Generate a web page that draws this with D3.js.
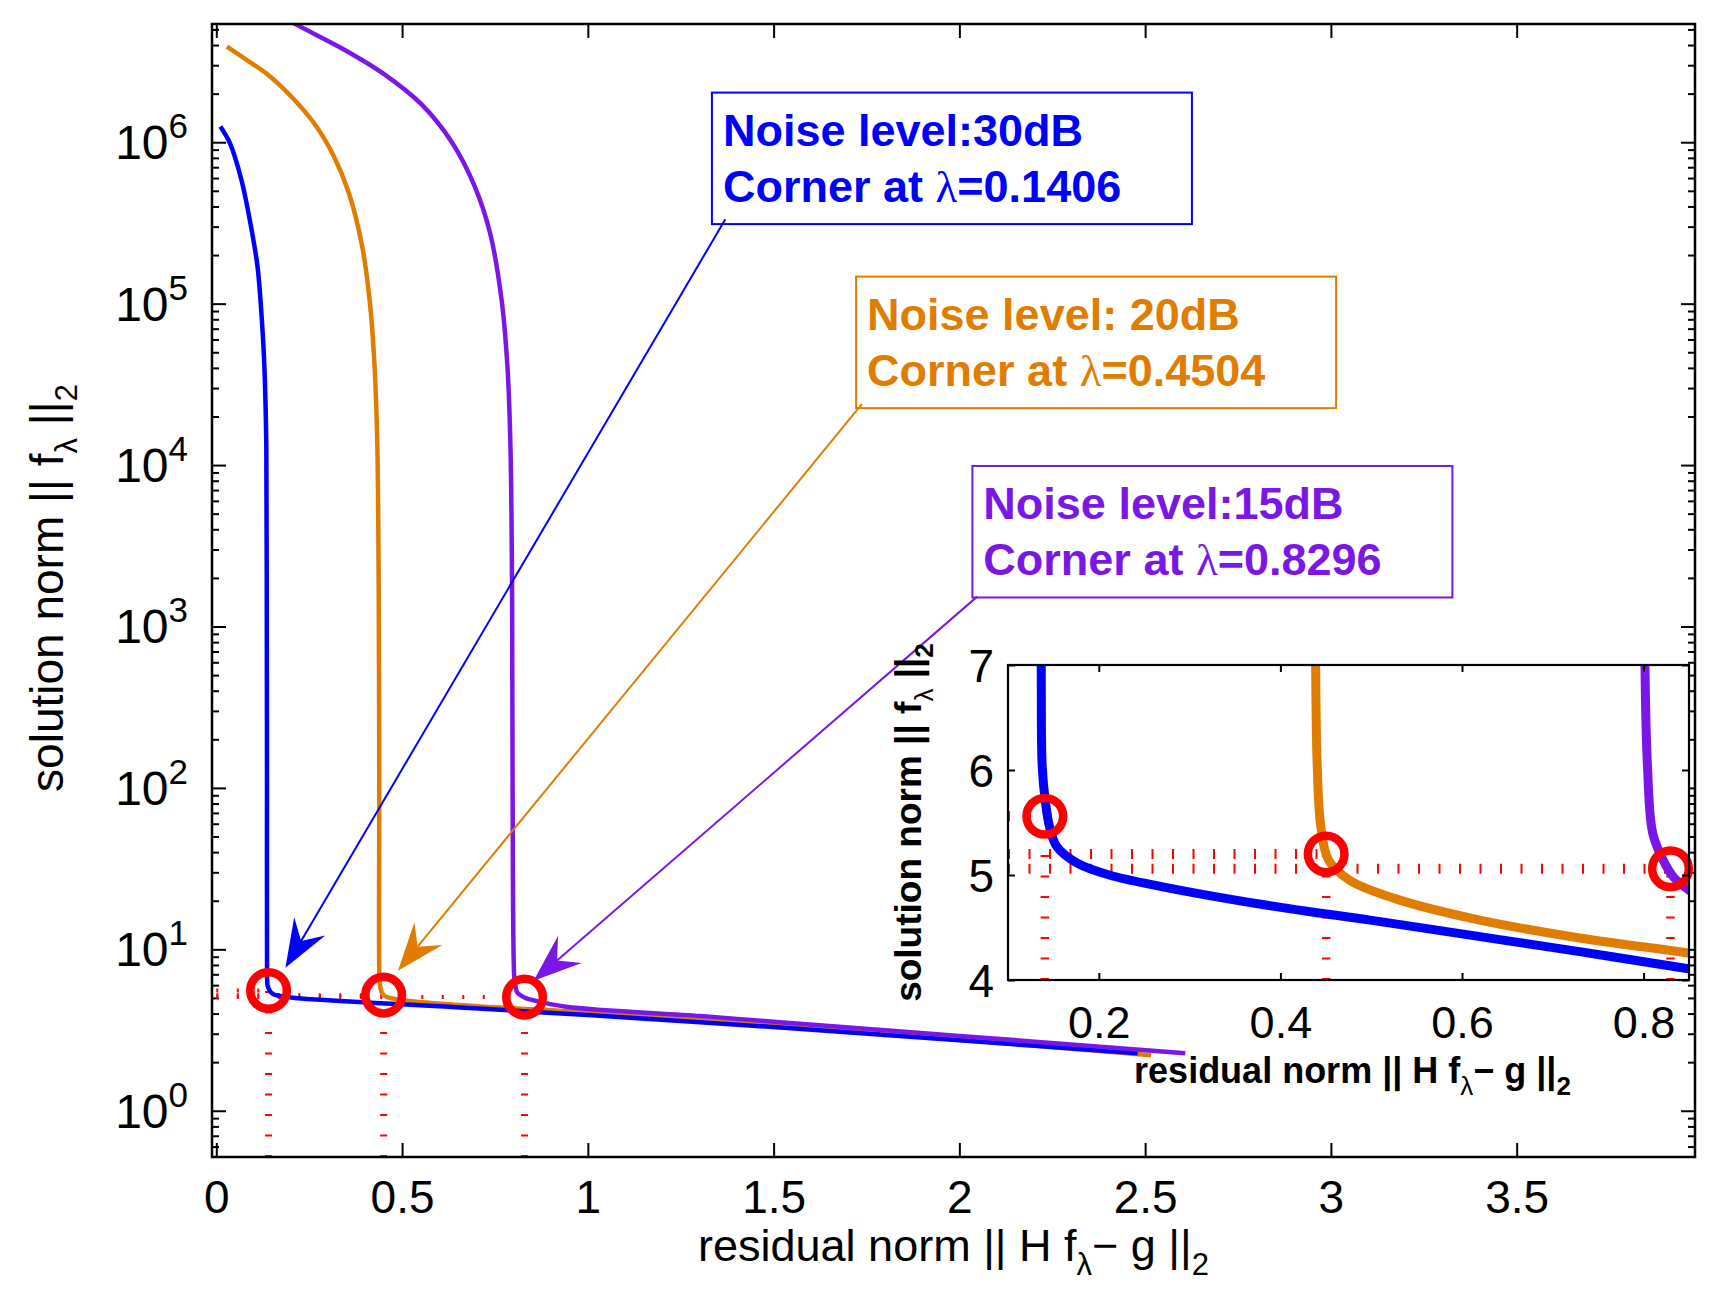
<!DOCTYPE html>
<html>
<head>
<meta charset="utf-8">
<script src="https://cdn.jsdelivr.net/npm/d3@7"></script>
<style>
  body { margin: 0; background: #fff; }
  svg { display: block; }
</style>
</head>
<body>
<div id="chart"></div>
<script>
const width = 1720;
const height = 1315;

// colours of the three noise levels (30dB, 20dB, 15dB)
const seriesColors = ["#0000ff", "#e07d00", "#7a17e6"];

// L-curves: residual norm (x) and solution norm (y)
const blueX = [0.011, 0.0366, 0.0676, 0.0934, 0.111, 0.122, 0.1294, 0.1346, 0.1358, 0.1364,
  0.1366, 0.1377, 0.141, 0.146, 0.1538, 0.1768, 0.2114, 0.269, 0.384, 0.499,
  0.6144, 0.7295, 0.8475, 1.0, 1.5, 2.0, 2.48];
const blueY = [1.25e6, 9.86e5, 5.83e5, 3.0e5, 1.69e5, 8.3e4, 4.07e4, 1.3e4, 1500, 100,
  7, 6.03, 5.71, 5.45, 5.27, 5.11, 5.0, 4.89, 4.714, 4.57,
  4.42, 4.27, 4.11, 3.92, 3.30, 2.73, 2.27];

const orangeX = [0.0285, 0.0882, 0.1397, 0.2016, 0.2633, 0.315, 0.356, 0.392, 0.4127, 0.426,
  0.4334, 0.4372, 0.4385, 0.4388, 0.4406, 0.4445, 0.4532, 0.4762, 0.528, 0.6144,
  0.7295, 0.8475, 1.0, 1.5, 2.0, 2.516];
const orangeY = [3.91e6, 3.16e6, 2.61e6, 1.92e6, 1.31e6, 8.3e5, 4.9e5, 2.3e5, 1.05e5, 4.07e4,
  1.3e4, 1500, 100, 7, 6.03, 5.46, 5.14, 4.95, 4.77, 4.58,
  4.40, 4.26, 4.06, 3.39, 2.75, 2.21];

const purpleX = [0.15, 0.222, 0.3457, 0.4487, 0.5518, 0.634, 0.6958, 0.737, 0.768, 0.7836,
  0.7917, 0.7962, 0.7975, 0.8015, 0.8043, 0.81, 0.8216, 0.833, 0.851, 0.9415,
  1.303, 1.5, 2.0, 2.608];
const purpleY = [6.5e6, 5.26e6, 3.73e6, 2.67e6, 1.72e6, 1.0e6, 5.31e5, 2.73e5, 1.05e5, 4.07e4,
  1.3e4, 1500, 100, 7, 6.03, 5.40, 5.14, 4.98, 4.85, 4.41,
  3.86, 3.56, 2.91, 2.27];

// corners of the L-curves
const cornerX = [0.1406, 0.4504, 0.8296];
const cornerY = [5.56, 5.2, 5.06];

// ticks
const xTicks = [0, 0.5, 1, 1.5, 2, 2.5, 3, 3.5];
const yExponents = [0, 1, 2, 3, 4, 5, 6];
const insetXTicks = [0.2, 0.4, 0.6, 0.8];
const insetYTicks = [4, 5, 6, 7];

// annotation texts
const noiseLabels = ["Noise level:30dB", "Noise level: 20dB", "Noise level:15dB"];
const lambdaLabels = ["0.1406", "0.4504", "0.8296"];
// annotation anchors in data units: box top-left, arrow tail, arrow tip
const boxX = [1.334, 1.722, 2.035];
const boxY = [2.03e6, 1.47e5, 9.87e3];
const tailX = [1.370, 1.738, 2.048];
const tailY = [3.33e5, 2.39e4, 1531];
const tipX = [0.186, 0.489, 0.854];
const tipY = [7.69, 7.37, 6.39];

const font = "'Liberation Sans', Arial, Helvetica, sans-serif";

const svg = d3.select("#chart").append("svg")
  .attr("width", width)
  .attr("height", height)
  .style("font-family", font)
  .style("background", "#fff");

const main = { left: 212, top: 24, right: 1695, bottom: 1157 };
const inset = { left: 1008, top: 665, right: 1689, bottom: 980 };

const x = d3.scaleLinear().domain([-0.0116, 3.98]).range([main.left, main.right]);
const y = d3.scaleLog().domain([0.517, 5.4e6]).range([main.bottom, main.top]);
const xi = d3.scaleLinear().domain([0.1, 0.85]).range([inset.left, inset.right]);
const yi = d3.scaleLinear().domain([4, 7]).range([inset.bottom, inset.top]);

const series = [
  { xs: orangeX, ys: orangeY, color: seriesColors[1] },
  { xs: blueX, ys: blueY, color: seriesColors[0] },
  { xs: purpleX, ys: purpleY, color: seriesColors[2] }
];

// clip paths
const defs = svg.append("defs");
defs.append("clipPath").attr("id", "clipMain").append("rect")
  .attr("x", main.left).attr("y", main.top)
  .attr("width", main.right - main.left).attr("height", main.bottom - main.top);
defs.append("clipPath").attr("id", "clipInset").append("rect")
  .attr("x", inset.left).attr("y", inset.top)
  .attr("width", inset.right - inset.left).attr("height", inset.bottom - inset.top);

function styleAxis(g, w) {
  g.select(".domain").remove();
  g.selectAll(".tick line").attr("stroke", "#000").attr("stroke-width", w);
}

// ---------- main axes ----------
const minorY = [];
for (let k = -1; k <= 6; k++) {
  for (let m = 2; m <= 9; m++) {
    const v = m * Math.pow(10, k);
    if (v > y.domain()[0] && v < y.domain()[1]) minorY.push(v);
  }
}
const majorY = yExponents.map(e => Math.pow(10, e));

svg.append("g").attr("transform", `translate(0,${main.bottom})`)
  .call(d3.axisBottom(x).tickValues(xTicks).tickSize(-14).tickFormat(d3.format("")))
  .call(g => styleAxis(g, 2))
  .call(g => g.selectAll("text").attr("y", 56).attr("dy", null)
    .attr("font-size", 46).attr("font-family", font).attr("fill", "#000"));
svg.append("g").attr("transform", `translate(0,${main.top})`)
  .call(d3.axisTop(x).tickValues(xTicks).tickSize(-14).tickFormat(""))
  .call(g => styleAxis(g, 2));

[["left", main.left], ["right", main.right]].forEach(([side, px]) => {
  const ax = side === "left" ? d3.axisLeft : d3.axisRight;
  svg.append("g").attr("transform", `translate(${px},0)`)
    .call(ax(y).tickValues(majorY).tickSize(-14).tickFormat(""))
    .call(g => styleAxis(g, 2));
  svg.append("g").attr("transform", `translate(${px},0)`)
    .call(ax(y).tickValues(minorY).tickSize(-7).tickFormat(""))
    .call(g => styleAxis(g, 2));
});

// y tick labels 10^n
svg.append("g").selectAll("text")
  .data(yExponents)
  .join("text")
  .attr("x", main.left - 24)
  .attr("y", d => y(Math.pow(10, d)) + 17)
  .attr("text-anchor", "end")
  .attr("font-size", 48)
  .attr("fill", "#000")
  .each(function (d) {
    const t = d3.select(this);
    t.append("tspan").text("10");
    t.append("tspan").attr("dy", -21).attr("font-size", 35).text(d);
  });

// red reference lines (main)
const refMain = svg.append("g").attr("clip-path", "url(#clipMain)")
  .attr("stroke", "#ff0000").attr("fill", "none");
refMain.selectAll("line.v")
  .data(cornerX)
  .join("line")
  .attr("class", "v")
  .attr("x1", d => x(d)).attr("x2", d => x(d))
  .attr("y1", main.bottom).attr("y2", (d, i) => y(cornerY[i]))
  .attr("stroke-width", 7).attr("stroke-dasharray", "2 18.5");
refMain.selectAll("line.h")
  .data(cornerX)
  .join("line")
  .attr("class", "h")
  .attr("x1", x(0)).attr("x2", d => x(d))
  .attr("y1", (d, i) => y(cornerY[i])).attr("y2", (d, i) => y(cornerY[i]))
  .attr("stroke-width", 4).attr("stroke-dasharray", "2 18.5");

// curves (main)
const lineMain = d3.line()
  .x(d => x(d[0]))
  .y(d => y(d[1]))
  .curve(d3.curveCatmullRom.alpha(0.5));
svg.append("g").attr("clip-path", "url(#clipMain)")
  .selectAll("path")
  .data(series)
  .join("path")
  .attr("fill", "none")
  .attr("stroke", d => d.color)
  .attr("stroke-width", 4.5)
  .attr("stroke-linejoin", "round")
  .attr("d", d => lineMain(d.xs.map((v, i) => [v, d.ys[i]])));

// corner circles (main)
svg.append("g").selectAll("circle")
  .data(cornerX)
  .join("circle")
  .attr("cx", d => x(d))
  .attr("cy", (d, i) => y(cornerY[i]))
  .attr("r", 18.3)
  .attr("fill", "none")
  .attr("stroke", "#ff0000")
  .attr("stroke-width", 8.5);

// main frame
svg.append("rect")
  .attr("x", main.left).attr("y", main.top)
  .attr("width", main.right - main.left).attr("height", main.bottom - main.top)
  .attr("fill", "none").attr("stroke", "#000").attr("stroke-width", 2.5);

// axis labels (main)
svg.append("text")
  .attr("x", (main.left + main.right) / 2)
  .attr("y", 1261)
  .attr("text-anchor", "middle")
  .attr("font-size", 45)
  .call(t => {
    t.append("tspan").text("residual norm || H f");
    t.append("tspan").attr("dy", 14).attr("font-size", 31).text("λ");
    t.append("tspan").attr("dy", -14).text("− g ||");
    t.append("tspan").attr("dy", 14).attr("font-size", 31).text("2");
  });
svg.append("text")
  .attr("transform", "translate(63,588) rotate(-90)")
  .attr("text-anchor", "middle")
  .attr("font-size", 46)
  .call(t => {
    t.append("tspan").text("solution norm || f");
    t.append("tspan").attr("dy", 14).attr("font-size", 31).text("λ");
    t.append("tspan").attr("dy", -14).text(" ||");
    t.append("tspan").attr("dy", 14).attr("font-size", 31).text("2");
  });

// ---------- annotations ----------
const ann = svg.append("g");
seriesColors.forEach((c, i) => {
  const bx = x(boxX[i]), by = y(boxY[i]);
  const g = ann.append("g");
  g.append("rect")
    .attr("x", bx).attr("y", by)
    .attr("width", 480).attr("height", 131.5)
    .attr("fill", "none").attr("stroke", c).attr("stroke-width", 2);
  g.append("text")
    .attr("x", bx + 11).attr("y", by + 53)
    .attr("font-size", 45).attr("font-weight", "bold").attr("fill", c)
    .text(noiseLabels[i]);
  g.append("text")
    .attr("x", bx + 11).attr("y", by + 109)
    .attr("font-size", 45).attr("font-weight", "bold").attr("fill", c)
    .call(t => {
      t.append("tspan").text("Corner at ");
      t.append("tspan").attr("font-family", "'Liberation Serif', 'Times New Roman', serif")
        .attr("font-weight", "normal").text("λ");
      t.append("tspan").text("=" + lambdaLabels[i]);
    });

  // arrow
  const sx = x(tailX[i]), sy = y(tailY[i]);
  const tx = x(tipX[i]), ty = y(tipY[i]);
  const len = Math.hypot(tx - sx, ty - sy);
  const ux = (tx - sx) / len, uy = (ty - sy) / len;
  const nx = -uy, ny = ux;
  const L = 48, W = 18, N = 31;
  g.append("line")
    .attr("x1", sx).attr("y1", sy)
    .attr("x2", tx - N * ux).attr("y2", ty - N * uy)
    .attr("stroke", c).attr("stroke-width", 2);
  g.append("path")
    .attr("d", d3.line()([
      [tx, ty],
      [tx - L * ux + W * nx, ty - L * uy + W * ny],
      [tx - N * ux, ty - N * uy],
      [tx - L * ux - W * nx, ty - L * uy - W * ny]
    ]) + "Z")
    .attr("fill", c);
});

// ---------- inset ----------
svg.append("rect")
  .attr("x", inset.left).attr("y", inset.top)
  .attr("width", inset.right - inset.left).attr("height", inset.bottom - inset.top)
  .attr("fill", "#fff");

const refInset = svg.append("g").attr("clip-path", "url(#clipInset)")
  .attr("stroke", "#ff0000").attr("fill", "none");
refInset.selectAll("line.v")
  .data(cornerX)
  .join("line")
  .attr("class", "v")
  .attr("x1", d => xi(d)).attr("x2", d => xi(d))
  .attr("y1", inset.bottom).attr("y2", (d, i) => yi(cornerY[i]))
  .attr("stroke-width", 8.5).attr("stroke-dasharray", "2 18.5");
refInset.selectAll("line.h")
  .data(cornerX)
  .join("line")
  .attr("class", "h")
  .attr("x1", inset.left).attr("x2", d => xi(d))
  .attr("y1", (d, i) => yi(cornerY[i])).attr("y2", (d, i) => yi(cornerY[i]))
  .attr("stroke-width", 10).attr("stroke-dasharray", "2 18.5");

const lineInset = d3.line()
  .x(d => xi(d[0]))
  .y(d => yi(d[1]))
  .curve(d3.curveCatmullRom.alpha(0.5));
svg.append("g").attr("clip-path", "url(#clipInset)")
  .selectAll("path")
  .data(series)
  .join("path")
  .attr("fill", "none")
  .attr("stroke", d => d.color)
  .attr("stroke-width", 9)
  .attr("d", d => lineInset(
    d.xs.map((v, i) => [v, d.ys[i]]).filter(p => p[1] <= 150 && p[0] <= 1.1)));

svg.append("g").selectAll("circle")
  .data(cornerX)
  .join("circle")
  .attr("cx", d => xi(d))
  .attr("cy", (d, i) => yi(cornerY[i]))
  .attr("r", 18.3)
  .attr("fill", "none")
  .attr("stroke", "#ff0000")
  .attr("stroke-width", 8.5);

svg.append("g").attr("transform", `translate(0,${inset.bottom})`)
  .call(d3.axisBottom(xi).tickValues(insetXTicks).tickSize(-7).tickFormat(d3.format(".1f")))
  .call(g => styleAxis(g, 2))
  .call(g => g.selectAll("text").attr("y", 58).attr("dy", null)
    .attr("font-size", 45).attr("font-family", font).attr("fill", "#000"));
svg.append("g").attr("transform", `translate(0,${inset.top})`)
  .call(d3.axisTop(xi).tickValues(insetXTicks).tickSize(-7).tickFormat(""))
  .call(g => styleAxis(g, 2));
svg.append("g").attr("transform", `translate(${inset.left},0)`)
  .call(d3.axisLeft(yi).tickValues(insetYTicks).tickSize(-7).tickFormat(d3.format("d")))
  .call(g => styleAxis(g, 2))
  .call(g => g.selectAll("text").attr("x", -14).attr("dy", "0.36em")
    .attr("font-size", 46).attr("font-family", font).attr("fill", "#000"));
svg.append("g").attr("transform", `translate(${inset.right},0)`)
  .call(d3.axisRight(yi).tickValues(insetYTicks).tickSize(-7).tickFormat(""))
  .call(g => styleAxis(g, 2));

svg.append("rect")
  .attr("x", inset.left).attr("y", inset.top)
  .attr("width", inset.right - inset.left).attr("height", inset.bottom - inset.top)
  .attr("fill", "none").attr("stroke", "#000").attr("stroke-width", 2.2);

svg.append("text")
  .attr("x", (inset.left + inset.right) / 2 + 4)
  .attr("y", 1083)
  .attr("text-anchor", "middle")
  .attr("font-size", 36)
  .attr("font-weight", "bold")
  .call(t => {
    t.append("tspan").text("residual norm || H f");
    t.append("tspan").attr("dy", 12).attr("font-size", 26).attr("font-weight", "normal").text("λ");
    t.append("tspan").attr("dy", -12).text("− g ||");
    t.append("tspan").attr("dy", 12).attr("font-size", 26).text("2");
  });
svg.append("text")
  .attr("transform", `translate(921,${(inset.top + inset.bottom) / 2}) rotate(-90)`)
  .attr("text-anchor", "middle")
  .attr("font-size", 37)
  .attr("font-weight", "bold")
  .call(t => {
    t.append("tspan").text("solution norm || f");
    t.append("tspan").attr("dy", 12).attr("font-size", 26).attr("font-weight", "normal").text("λ");
    t.append("tspan").attr("dy", -12).text(" ||");
    t.append("tspan").attr("dy", 12).attr("font-size", 26).text("2");
  });
</script>
</body>
</html>
